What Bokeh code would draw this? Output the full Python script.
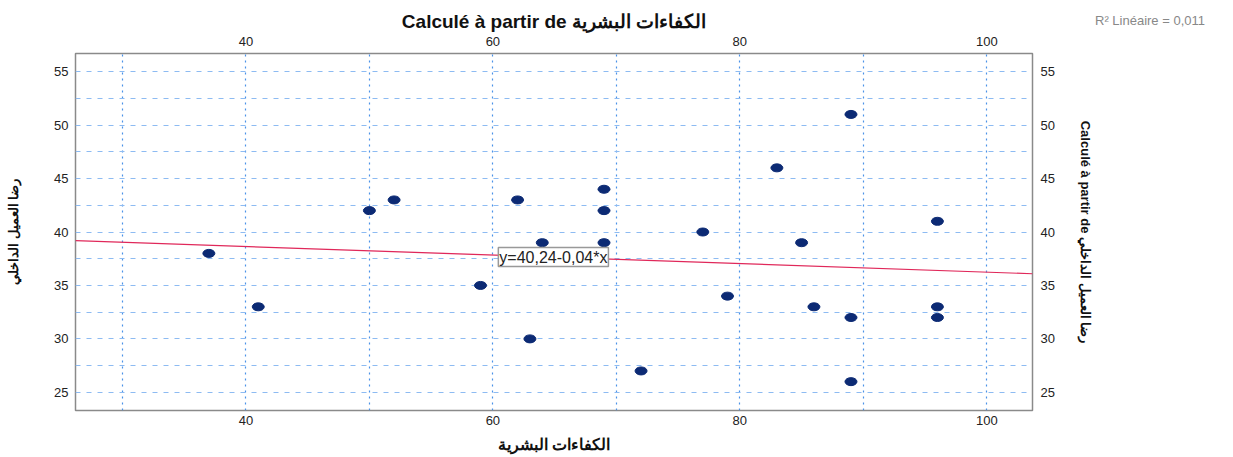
from bokeh.plotting import figure
from bokeh.models import (LinearAxis, FixedTicker, Label, Range1d, ColumnDataSource,
                          Legend, LegendItem)
from bokeh.embed import file_html
from bokeh.resources import INLINE

# ---- data ----
competences = [37, 41, 50, 52, 59, 62, 64, 63, 69, 69, 69, 72, 77, 79, 83, 85, 86, 89, 89, 89, 96, 96, 96]
satisfaction = [38, 33, 42, 43, 35, 43, 39, 30, 44, 42, 39, 27, 40, 34, 46, 39, 33, 32, 51, 26, 41, 33, 32]

x_ticks = [40, 60, 80, 100]
y_ticks = [25, 30, 35, 40, 45, 50, 55]
x_grid_ticks = [30, 40, 50, 60, 70, 80, 90, 100]
y_grid_ticks = [25, 27.5, 30, 32.5, 35, 37.5, 40, 42.5, 45, 47.5, 50, 52.5, 55]

fit_intercept = 40.24
fit_slope = -0.04
fit_label = "y=40,24-0,04*x"
r2_label = "R\u00b2 Lin\u00e9aire = 0,011"

x_title = "الكفاءات البشرية"
y_title = "رضا العميل الداخلي"
top_title = "Calculé à partir de " + x_title
right_title = "Calculé à partir de " + y_title

x_lo, x_hi = 26.2, 103.7
y_lo, y_hi = 23.3, 56.7

FONT = "Liberation Sans"

p = figure(width=1228, height=452, output_backend="svg", toolbar_location=None,
           x_range=Range1d(x_lo, x_hi), y_range=Range1d(y_lo, y_hi),
           frame_width=957, frame_height=357,
           min_border_left=75, min_border_top=53, min_border_right=196, min_border_bottom=42,
           background_fill_color="white", border_fill_color="white")
p.outline_line_color = "#8a8a8a"
p.outline_line_width = 1.5

# grids
p.xgrid.ticker = FixedTicker(ticks=x_grid_ticks)
p.ygrid.ticker = FixedTicker(ticks=y_grid_ticks)
p.xgrid.grid_line_color = "#4a92e8"
p.xgrid.grid_line_dash = "2 4"
p.xgrid.grid_line_width = 1.2
p.ygrid.grid_line_color = "#8dbbf2"
p.ygrid.grid_line_dash = "5 6"
p.ygrid.grid_line_width = 1.2


def style_axis(ax, ticks, label, standoff, label_standoff, label_size="13px", tick_size="13px"):
    ax.ticker = FixedTicker(ticks=ticks)
    ax.axis_label = label
    ax.axis_line_color = None
    ax.major_tick_line_color = None
    ax.minor_tick_line_color = None
    ax.major_tick_out = 0
    ax.major_tick_in = 0
    ax.minor_tick_out = 0
    ax.minor_tick_in = 0
    ax.major_label_text_font = FONT
    ax.major_label_text_font_size = tick_size
    ax.major_label_text_color = "#222222"
    ax.major_label_standoff = standoff
    ax.axis_label_text_font = FONT
    ax.axis_label_text_font_size = label_size
    ax.axis_label_text_font_style = "bold"
    ax.axis_label_text_color = "#111111"
    ax.axis_label_standoff = label_standoff


style_axis(p.xaxis[0], x_ticks, x_title, 5, 8, label_size="16px")
style_axis(p.yaxis[0], y_ticks, y_title, 7, 30)

top_axis = LinearAxis()
style_axis(top_axis, x_ticks, top_title, 8, 2, label_size="19px")
p.add_layout(top_axis, "above")

right_axis = LinearAxis()
style_axis(right_axis, y_ticks, right_title, 8, 20)
p.add_layout(right_axis, "right")

# fit line
fx = [x_lo, x_hi]
fy = [fit_intercept + fit_slope * v for v in fx]
fit_r = p.line(fx, fy, line_color="#e0285a", line_width=1.2)

# points
src = ColumnDataSource(dict(x=competences, y=satisfaction))
p.ellipse(x="x", y="y", width=12, height=8, width_units="screen", height_units="screen",
          source=src, fill_color="#0c2a74", line_color="#0c2a74")

# fit label box
p.add_layout(Label(x=64.9, y=37.66, text=fit_label, text_align="center", text_baseline="middle",
                   text_font=FONT, text_font_size="16px", text_color="#222222",
                   background_fill_color="white", border_line_color="#999999",
                   border_line_width=1.5, padding=1))

# R² note (legend without a glyph, in the right side panel, shifted above the frame)
ghost = p.line(fx, fy, line_alpha=0)
r2 = Legend(items=[LegendItem(label=r2_label, renderers=[ghost])],
            location=(-250, 382), glyph_width=0, glyph_height=14, label_standoff=0,
            padding=0, margin=0, spacing=0, border_line_color=None,
            background_fill_alpha=0, label_text_font=FONT, label_text_font_size="13px",
            label_text_color="#888888", label_height=14)
p.add_layout(r2, "right")

open("out.html", "w").write(file_html(p, INLINE))
